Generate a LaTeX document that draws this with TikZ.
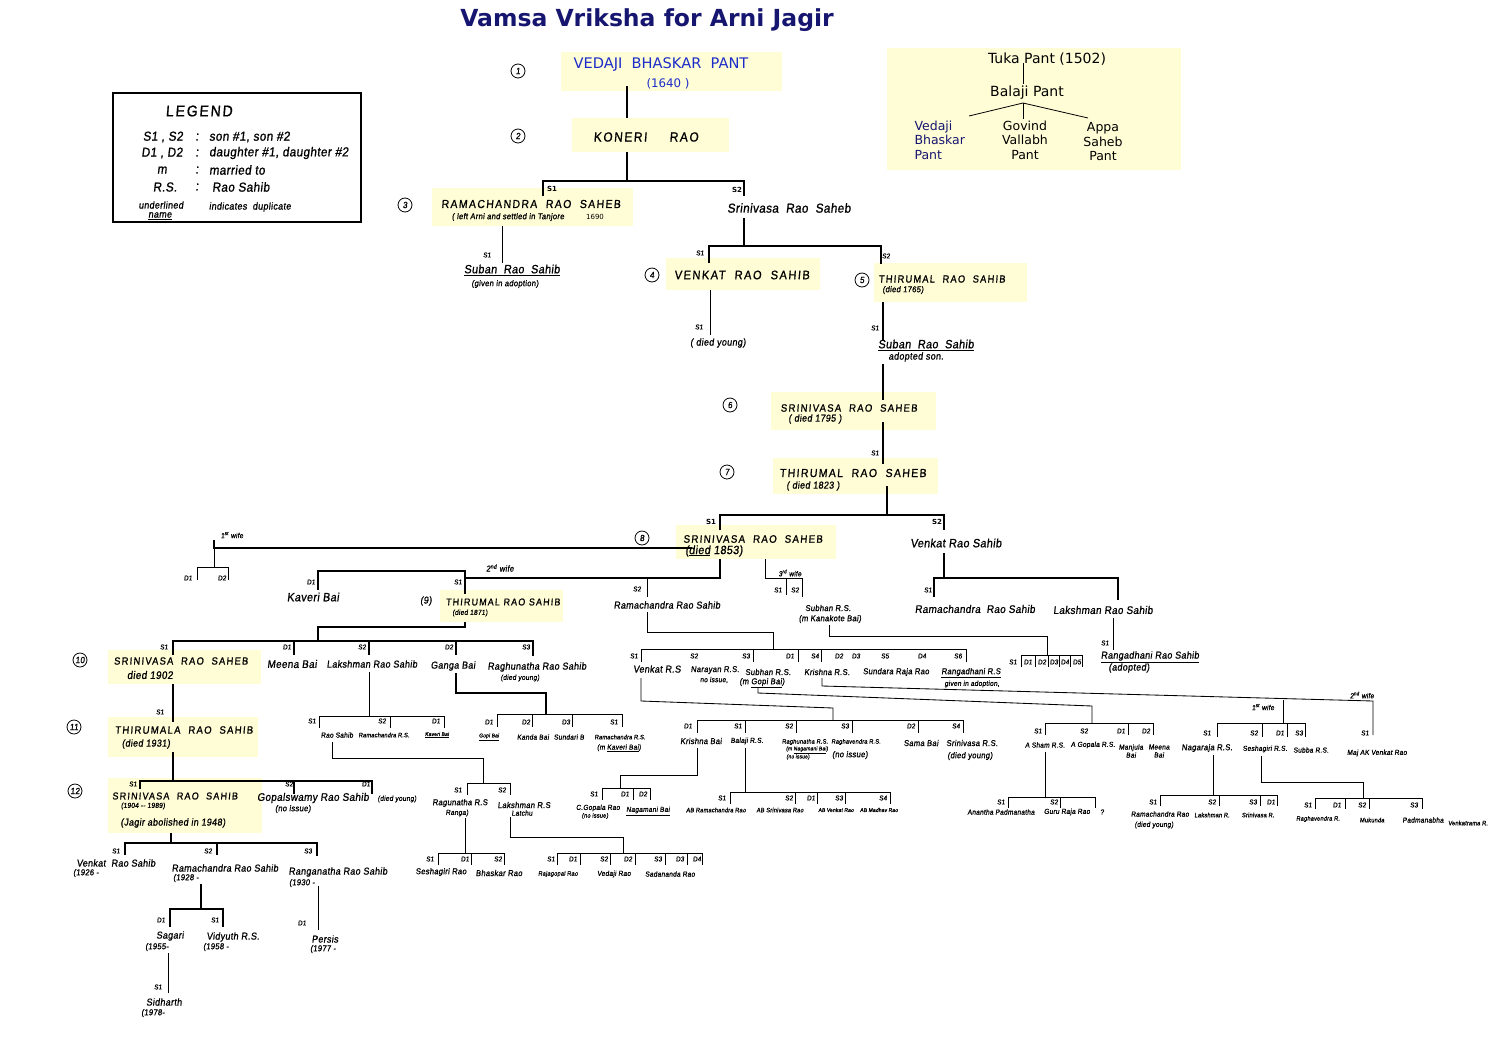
\documentclass[tikz,border=0pt]{standalone}
\usepackage{fontspec}
\setmainfont{DejaVu Sans}
\newfontfamily\hand{Liberation Sans}[FakeStretch=0.9,FakeSlant=0.12,FakeBold=1,LetterSpace=3]
\newfontfamily\handcaps{Liberation Sans}[FakeStretch=0.9,FakeSlant=0.08,FakeBold=1,LetterSpace=12]
\definecolor{hlyellow}{RGB}{255,253,214}
\definecolor{navy}{RGB}{22,22,112}
\definecolor{vblue}{RGB}{28,44,200}

% a row of S1/D1 marks above one bracket
\newcommand\tagrow[3]{%
  \foreach \px/\lb [count=\i] in {#3}
    \node[tag] (#1\i) at (\px,#2) {\lb};}

\tikzset{
  main/.style={line width=2.6pt},
  mid/.style={line width=1.5pt},
  fine/.style={line width=0.85pt},
  hl/.style={fill=hlyellow},
  boxcap/.style={font=\handcaps\fontsize{#1}{#1}\selectfont, inner sep=0pt},
  boxcap/.default=10.5,
  nmL/.style={font=\hand\fontsize{12}{13}\selectfont, inner sep=0pt},
  nmM/.style={font=\hand\fontsize{11}{12}\selectfont, inner sep=0pt},
  nm/.style={font=\hand\fontsize{10}{11}\selectfont, inner sep=0pt},
  sm/.style={font=\hand\fontsize{8.5}{9}\selectfont, inner sep=0pt},
  xs/.style={font=\hand\fontsize{7.3}{8}\selectfont, inner sep=0pt},
  xxs/.style={font=\hand\fontsize{6.3}{7}\selectfont, inner sep=0pt},
  tiny/.style={font=\hand\fontsize{5.5}{6}\selectfont, inner sep=0pt},
  tag/.style={font=\hand\fontsize{7}{7.5}\selectfont, inner sep=0pt},
  typed/.style={font=\bfseries\fontsize{7}{8}\selectfont, inner sep=0pt},
  gen/.style={circle, draw, line width=0.8pt, minimum size=14pt, inner sep=0pt,
    font=\hand\fontsize{9}{9}\selectfont},
}

\begin{document}
\begin{tikzpicture}[x=1pt,y=-1pt]
  \useasboundingbox (0,0) rectangle (1494,1047);

  % highlighted boxes
  \fill[hl] (561,52) rectangle (782,91);
  \fill[hl] (572,118) rectangle (729,152);
  \fill[hl] (432,188) rectangle (633,226);
  \fill[hl] (666,258) rectangle (820,290);
  \fill[hl] (874,263) rectangle (1027,302);
  \fill[hl] (771,392) rectangle (936,430);
  \fill[hl] (773,458) rectangle (938,494);
  \fill[hl] (676,525) rectangle (836,559);
  \fill[hl] (440,590) rectangle (563,622);
  \fill[hl] (108,650) rectangle (261,684);
  \fill[hl] (108,717) rectangle (258,757);
  \fill[hl] (108,778) rectangle (262,833);
  \fill[hl] (887,48) rectangle (1181,170);

  % title
  \node[font=\bfseries\fontsize{23.5}{26}\selectfont, text=navy] (title) at (647,20)
    {Vamsa Vriksha for Arni Jagir};

  % legend
  \draw[line width=1.3pt] (113,93) rectangle (361,222);
  \node[font=\handcaps\fontsize{15.5}{16}\selectfont] (lgd) at (199,111) {LEGEND};
  \begin{scope}[every node/.style={font=\hand\fontsize{13}{14}\selectfont, inner sep=0pt}]
    \node (lk1) at (163,137) {S1 , S2};
    \node (lk2) at (162,153) {D1 , D2};
    \node (lk3) at (162,170) {m};
    \node (lk4) at (165,187) {R.S.};
    \foreach \py [count=\i] in {137,153,170,187}
      \node (lc\i) at (197,\py) {:};
    \node[anchor=west] (lv1) at (209,137) {son \#1, son \#2};
    \node[anchor=west] (lv2) at (209,153) {daughter \#1, daughter \#2};
    \node[anchor=west] (lv3) at (209,170) {married to};
    \node[anchor=west] (lv4) at (212,187) {Rao Sahib};
  \end{scope}
  \node[nm] (lu1) at (161,205) {underlined};
  \node[nm] (lu2) at (160,216) {\underline{name}};
  \node[nm] (lu3) at (250,207) {indicates\ \ duplicate};

  % older line, top right
  \node[font=\fontsize{14}{16}\selectfont] (tuka) at (1047,59) {Tuka Pant (1502)};
  \node[font=\fontsize{14}{16}\selectfont] (balaji) at (1027,93) {Balaji Pant};
  \draw[line width=0.8pt] (1023,63) -- (1023,84);
  \draw[line width=0.8pt] (969,116) -- (1023,103) -- (1088,118);
  \draw[line width=0.8pt] (1023,103) -- (1023,119);
  \node[align=left, anchor=west, text=navy, font=\fontsize{12.5}{14.5}\selectfont] (tvedaji)
    at (911,140) {Vedaji\\Bhaskar\\Pant};
  \node[align=center, font=\fontsize{12.5}{14.5}\selectfont] (govind) at (1025,140)
    {Govind\\Vallabh\\Pant};
  \node[align=center, font=\fontsize{12.5}{14.5}\selectfont] (appa) at (1103,142)
    {Appa\\Saheb\\Pant};

  % generation marks
  \node[gen] (g1) at (518,71) {1};
  \node[gen] (g2) at (518,136) {2};
  \node[gen] (g3) at (405,205) {3};
  \node[gen] (g4) at (652,275) {4};
  \node[gen] (g5) at (862,280) {5};
  \node[gen] (g6) at (730,405) {6};
  \node[gen] (g7) at (727,472) {7};
  \node[gen] (g8) at (642,538) {8};
  \node[nm] (g9) at (426,601) {(9)};
  \node[gen] (g10) at (80,660) {10};
  \node[gen] (g11) at (74,727) {11};
  \node[gen] (g12) at (75,791) {12};

  % generations 1 to 3
  \node[text=vblue, font=\fontsize{14.6}{16}\selectfont] (vedaji) at (661,65)
    {VEDAJI\ \ BHASKAR\ \ PANT};
  \node[text=vblue, font=\fontsize{11.8}{13}\selectfont] (vedajiyr) at (668,84) {(1640 )};
  \draw[main] (627,86) -- (627,118);
  \node[boxcap=13.2] (koneri) at (646,137) {KONERI\hspace{1.7em}RAO};
  \draw[main] (627,152) -- (627,181);
  \draw[main] (543,196) -- (543,181) -- (744,181) -- (744,196);
  \node[typed] (k1) at (552,189) {S1};
  \node[typed] (k2) at (737,190) {S2};
  \node[boxcap=11.6] (rama3) at (531,204) {RAMACHANDRA\ \ RAO\ \ SAHEB};
  \node[sm] (rama3n) at (508,217) {( left Arni and settled in Tanjore};
  \node[font=\fontsize{7}{8}\selectfont] (rama3y) at (595,217) {1690};
  \node[nmL, font=\hand\fontsize{13}{14}\selectfont] (srini3) at (789,208)
    {Srinivasa\ \ Rao\ \ Saheb};

  \draw[fine] (502,226) -- (502,263);
  \node[tag] (r1) at (487,255) {S1};
  \node[nmL] (suban1) at (512,270) {\underline{Suban\ \ Rao\ \ Sahib}};
  \node[sm] (suban1n) at (505,284) {(given in adoption)};

  % generations 4 and 5
  \draw[main] (744,218) -- (744,246);
  \draw[main] (709,263) -- (709,246) -- (881,246) -- (881,264);
  \node[tag] (s1) at (700,253) {S1};
  \node[tag] (s2) at (886,256) {S2};
  \node[boxcap=12.3] (venkat4) at (742,275) {VENKAT\ \ RAO\ \ SAHIB};
  \node[boxcap=10.3] (thiru5) at (942,279) {THIRUMAL\ \ RAO\ \ SAHIB};
  \node[sm] (thiru5n) at (903,290) {(died 1765)};
  \draw[fine] (710,290) -- (710,335);
  \node[tag] (v1) at (699,327) {S1};
  \node[nm] (vyoung) at (718,343) {( died young)};
  \draw[main] (883,302) -- (883,340);
  \node[tag] (t1) at (875,328) {S1};
  \node[nmL] (suban2) at (926,345) {\underline{Suban\ \ Rao\ \ Sahib}};
  \node[nm] (suban2n) at (916,357) {adopted son.};

  % generations 6 and 7
  \draw[main] (883,364) -- (883,400);
  \node[boxcap=10.6] (srini6) at (849,408) {SRINIVASA\ \ RAO\ \ SAHEB};
  \node[nm] (srini6n) at (815,419) {( died 1795 )};
  \draw[main] (883,422) -- (883,464);
  \node[tag] (u1) at (875,453) {S1};
  \node[boxcap=11.6] (thiru7) at (853,473) {THIRUMAL\ \ RAO\ \ SAHEB};
  \node[nm] (thiru7n) at (813,486) {( died 1823 )};
  \draw[main] (887,486) -- (887,515);
  \draw[main] (720,530) -- (720,515) -- (944,515) -- (944,530);
  \node[typed] (w1) at (711,522) {S1};
  \node[typed] (w2) at (937,522) {S2};

  % generation 8
  \node[boxcap=10.8] (srini8) at (753,539) {SRINIVASA\ \ RAO\ \ SAHEB};
  \node[nmL] (srini8n) at (714,551) {(\underline{died} 1853)};
  \node[nmL] (venkat8) at (956,543) {Venkat Rao Sahib};

  % first wife
  \draw[main] (214,540) -- (214,548) -- (692,548);
  \draw[fine] (214,548) -- (214,567);
  \draw[fine] (197,580) -- (197,567) -- (228,567) -- (228,580);
  \node[xs] (wife1) at (232,535) {1\textsuperscript{st} wife};
  \tagrow{fw}{578}{188/D1,222/D2}

  % second wife
  \draw[main] (720,559) -- (720,578) -- (465,578);
  \draw[main] (318,590) -- (318,571) -- (465,571) -- (465,594);
  \node[sm] (wife2) at (500,568) {2\textsuperscript{nd} wife};
  \tagrow{sw}{582}{311/D1,458/S1}
  \node[nmL] (kaveri) at (313,597) {Kaveri Bai};
  \draw[fine] (647,578) -- (647,597);
  \node[tag] (sw3) at (637,589) {S2};
  \node[nm] (rama9) at (667,605) {Ramachandra Rao Sahib};
  \node[boxcap=9.9] (thiru9) at (503,602) {THIRUMAL RAO SAHIB};
  \node[xs] (thiru9n) at (470,613) {(died 1871)};

  % third wife
  \draw[fine] (765,559) -- (765,578) -- (802,578) -- (802,597);
  \draw[fine] (786,578) -- (786,595);
  \node[xs] (wife3) at (790,573) {3\textsuperscript{rd} wife};
  \tagrow{tw}{590}{778/S1,795/S2}
  \node[sm] (subhan9) at (828,608) {Subhan R.S.};
  \node[sm] (subhan9n) at (830,619) {(m Kanakote Bai)};

  % Venkat Rao Sahib's line
  \draw[main] (944,553) -- (944,578);
  \draw[main] (934,597) -- (934,578) -- (1118,578) -- (1118,600);
  \node[tag] (vr1) at (928,590) {S1};
  \node[nmM] (ramav) at (975,609) {Ramachandra\ \ Rao Sahib};
  \node[nmM] (lakv) at (1103,610) {Lakshman Rao Sahib};
  \draw[fine] (1113,618) -- (1113,650);
  \node[tag] (lv1) at (1105,643) {S1};
  \node[nm] (ranga1) at (1150,657) {\underline{Rangadhani Rao Sahib}};
  \node[nm] (ranga1n) at (1129,668) {(adopted)};

  % Subhan R.S. (third wife) children
  \draw[fine] (829,625) -- (829,636) -- (1047,636) -- (1047,655);
  \draw[fine] (1021,667) -- (1021,655) -- (1082,655) -- (1082,667);
  \foreach \px in {1035,1048,1059,1070}
    \draw[fine] (\px,655) -- (\px,667);
  \tagrow{sb}{662}{1013/S1,1028/D1,1042/D2,1054/D3,1065/D4,1077/D5}

  % Ramachandra Rao Sahib (S2) children
  \draw[fine] (647,612) -- (647,632) -- (773,632) -- (773,649);
  \draw[fine] (641,662) -- (641,649) -- (966,649) -- (966,662);
  \foreach \px in {753,798,821}
    \draw[fine] (\px,649) -- (\px,662);
  \tagrow{ra}{656}{634/S1,694/S2,746/S3,790/D1,815/S4,839/D2,856/D3,885/S5,922/D4,958/S6}
  \node[nm] (ven10) at (657,669) {Venkat R.S};
  \node[sm] (nar10) at (715,670) {Narayan R.S.};
  \node[xs] (nar10n) at (714,680) {no issue,};
  \node[sm] (sub10) at (768,672) {Subhan R.S.};
  \node[sm] (sub10n) at (762,683) {(m \underline{Gopi Bai})};
  \node[sm] (kri10) at (827,672) {Krishna R.S.};
  \node[sm] (sun10) at (896,672) {Sundara Raja Rao};
  \node[sm] (ran10) at (971,673) {\underline{Rangadhani R.S}};
  \node[xs] (ran10n) at (972,684) {given in adoption,};

  % Venkat R.S. children
  \draw[fine] (641,678) -- (641,701) -- (833,708) -- (833,720);
  \draw[fine] (697,733) -- (697,720) -- (963,720) -- (963,733);
  \foreach \px in {745,796,852,918}
    \draw[fine] (\px,720) -- (\px,733);
  \tagrow{vk}{726}{688/D1,738/S1,789/S2,845/S3,911/D2,956/S4}
  \node[sm] (kbai) at (701,741) {Krishna Bai};
  \node[xs] (bala) at (747,741) {Balaji R.S.};
  \node[xxs] (ragh) at (805,742) {Raghunatha R.S.};
  \node[tiny] (raghm) at (807,750) {(m \underline{Nagamani Bai})};
  \node[tiny] (raghn) at (798,757) {(no issue)};
  \node[xxs] (rgv) at (856,742) {Raghavendra R.S.};
  \node[sm] (rgvn) at (850,755) {(no issue)};
  \node[sm] (sama) at (921,743) {Sama Bai};
  \node[sm] (srs) at (972,743) {Srinivasa R.S.};
  \node[sm] (srsn) at (970,756) {(died young)};

  % Krishna Bai children
  \draw[fine] (697,748) -- (697,775) -- (620,775) -- (620,788);
  \draw[fine] (602,800) -- (602,788) -- (650,788) -- (650,800);
  \draw[fine] (633,788) -- (633,800);
  \tagrow{kb}{794}{594/S1,625/D1,643/D2}
  \node[xs] (cgop) at (598,808) {C.Gopala Rao};
  \node[xxs] (cgopn) at (595,816) {(no issue)};
  \node[xs] (naga) at (648,811) {\underline{Nagamani Bai}};

  % Balaji R.S. children
  \draw[fine] (745,748) -- (745,792);
  \draw[fine] (730,804) -- (730,792) -- (890,792) -- (890,804);
  \foreach \px in {795,817,845}
    \draw[fine] (\px,792) -- (\px,804);
  \tagrow{bl}{798}{722/S1,789/S2,811/D1,839/S3,883/S4}
  \node[xxs] (abr) at (716,810) {AB Ramachandra Rao};
  \node[xxs] (abs) at (780,810) {AB Srinivasa Rao};
  \node[tiny] (abv) at (836,810) {AB Venkat Rao};
  \node[tiny] (abm) at (879,810) {AB Madhav Rao};

  % Subhan R.S. children
  \draw[fine] (758,688) -- (758,693) -- (1092,706) -- (1092,723);
  \draw[fine] (1045,735) -- (1045,723) -- (1153,723) -- (1153,735);
  \draw[fine] (1128,723) -- (1128,735);
  \tagrow{sh}{731}{1038/S1,1084/S2,1121/D1,1146/D2}
  \node[xs] (asham) at (1045,745) {A Sham R.S.};
  \node[xs] (agop) at (1093,745) {A Gopala R.S.};
  \node[xs, align=center] (manj) at (1131,751) {Manjula\\Bai};
  \node[xs, align=center] (meena2) at (1159,751) {Meena\\Bai};

  % A Sham R.S. children
  \draw[fine] (1045,752) -- (1045,797);
  \draw[fine] (1008,808) -- (1008,797) -- (1095,797) -- (1095,808);
  \draw[fine] (1060,797) -- (1060,808);
  \tagrow{as}{802}{1001/S1,1054/S2}
  \node[xs] (anan) at (1001,812) {Anantha Padmanatha};
  \node[xs] (guru) at (1067,812) {Guru Raja Rao};
  \node[xs] (qm) at (1102,812) {?};

  % Krishna R.S. children
  \draw[fine] (822,678) -- (822,686) -- (1373,701) -- (1373,735);
  \draw[fine] (1283,700) -- (1283,723);
  \node[xs] (kw1) at (1263,707) {1\textsuperscript{st} wife};
  \node[xs] (kw2) at (1362,695) {2\textsuperscript{nd} wife};
  \draw[fine] (1217,737) -- (1217,723) -- (1305,723) -- (1305,737);
  \foreach \px in {1262,1287}
    \draw[fine] (\px,723) -- (\px,737);
  \tagrow{kr}{733}{1207/S1,1254/S2,1280/D1,1299/S3,1365/S1}
  \node[sm] (nagr) at (1207,748) {Nagaraja R.S.};
  \node[xs] (sesr) at (1265,749) {Seshagiri R.S.};
  \node[xs] (subr) at (1311,750) {Subba R.S.};
  \node[xs] (majak) at (1377,753) {Maj AK Venkat Rao};

  % Nagaraja R.S. children
  \draw[fine] (1213,755) -- (1213,795);
  \draw[fine] (1160,806) -- (1160,795) -- (1277,795) -- (1277,806);
  \foreach \px in {1219,1260}
    \draw[fine] (\px,795) -- (\px,806);
  \tagrow{ng}{802}{1153/S1,1212/S2,1253/S3,1271/D1}
  \node[xs] (ngr1) at (1160,814) {Ramachandra Rao};
  \node[xs] (ngr1n) at (1154,825) {(died young)};
  \node[xxs] (ngr2) at (1212,815) {Lakshman R.};
  \node[xxs] (ngr3) at (1258,815) {Srinivasa R.};

  % Seshagiri R.S. children
  \draw[fine] (1261,756) -- (1261,782) -- (1363,782) -- (1363,798);
  \draw[fine] (1315,809) -- (1315,798) -- (1422,798) -- (1422,809);
  \foreach \px in {1345,1369}
    \draw[fine] (\px,798) -- (\px,809);
  \tagrow{ss}{805}{1308/S1,1337/D1,1362/S2,1414/S3}
  \node[xxs] (ssr1) at (1318,819) {Raghavendra R.};
  \node[xxs] (ssr2) at (1372,820) {Mukunda};
  \node[xs] (ssr3) at (1423,820) {Padmanabha};
  \node[xxs] (ssr4) at (1468,823) {Venkatrama R.};

  % Thirumal Rao Sahib (1871) children
  \draw[main] (465,622) -- (465,627) -- (318,627) -- (318,641);
  \draw[main] (173,655) -- (173,641) -- (533,641) -- (533,656);
  \foreach \px in {294,369,456}
    \draw[mid] (\px,641) -- (\px,655);
  \tagrow{th}{647}{164/S1,287/D1,362/S2,449/D2,526/S3}
  \node[boxcap=10.4] (srini10) at (181,661) {SRINIVASA\ \ RAO\ \ SAHEB};
  \node[nmM] (srini10n) at (150,675) {died 1902};
  \node[nmM] (meena) at (292,664) {Meena Bai};
  \node[nm] (laks) at (372,664) {Lakshman Rao Sahib};
  \node[nm] (ganga) at (453,666) {Ganga Bai};
  \node[nm] (raghu) at (537,667) {Raghunatha Rao Sahib};
  \node[xs] (raghun) at (520,678) {(died young)};

  % Lakshman Rao Sahib children
  \draw[fine] (369,672) -- (369,716);
  \draw[fine] (319,728) -- (319,716) -- (444,716) -- (444,728);
  \draw[fine] (390,716) -- (390,728);
  \tagrow{lk}{721}{312/S1,382/S2,436/D1}
  \node[xs] (lkr1) at (337,735) {Rao Sahib};
  \node[xxs] (lkr2) at (384,735) {Ramachandra R.S.};
  \node[tiny] (lkr3) at (437,735) {\underline{Kaveri Bai}};

  % Ganga Bai children
  \draw[main] (456,673) -- (456,693) -- (546,693) -- (546,714);
  \draw[fine] (497,727) -- (497,714) -- (622,714) -- (622,727);
  \foreach \px in {532,572}
    \draw[fine] (\px,714) -- (\px,727);
  \tagrow{gb}{722}{489/D1,526/D2,566/D3,614/S1}
  \node[tiny] (gbr1) at (489,737) {\underline{Gopi Bai}};
  \node[xs] (gbr2) at (533,737) {Kanda Bai};
  \node[xs] (gbr3) at (569,737) {Sundari B};
  \node[xxs] (gbr4) at (620,737) {Ramachandra R.S.};
  \node[xs] (gbr4n) at (619,748) {(m \underline{Kaveri Bai})};

  % Rao Sahib's children
  \draw[fine] (332,742) -- (332,758) -- (483,758) -- (483,783);
  \draw[fine] (467,795) -- (467,783) -- (510,783) -- (510,795);
  \tagrow{rs}{790}{458/S1,502/S2}
  \node[sm] (rsr1) at (460,803) {Ragunatha R.S};
  \node[xs] (rsr1n) at (457,813) {Ranga)};
  \node[sm] (rsr2) at (524,805) {Lakshman R.S};
  \node[xs] (rsr2n) at (522,813) {Latchu};

  % Ragunatha R.S. children
  \draw[fine] (465,818) -- (465,853);
  \draw[fine] (438,865) -- (438,853) -- (504,853) -- (504,865);
  \draw[fine] (471,853) -- (471,865);
  \tagrow{rg}{859}{430/S1,465/D1,498/S2}
  \node[sm] (rgr1) at (441,872) {Seshagiri Rao};
  \node[sm] (rgr2) at (499,873) {Bhaskar Rao};

  % Lakshman R.S. children
  \draw[fine] (510,817) -- (510,837) -- (623,837) -- (623,853);
  \draw[fine] (557,865) -- (557,853) -- (702,853) -- (702,865);
  \foreach \px in {580,610,635,665,687}
    \draw[fine] (\px,853) -- (\px,865);
  \tagrow{lr}{859}{551/S1,573/D1,604/S2,628/D2,658/S3,680/D3,697/D4}
  \node[xxs] (lrr1) at (558,874) {Rajagopal Rao};
  \node[xs] (lrr2) at (614,874) {Vedaji Rao};
  \node[xs] (lrr3) at (670,874) {Sadananda Rao};

  % generations 10 to 12
  \draw[main] (173,684) -- (173,722);
  \node[tag] (x1) at (160,712) {S1};
  \node[boxcap=10.6] (thiru11) at (184,730) {THIRUMALA\ \ RAO\ \ SAHIB};
  \node[nm] (thiru11n) at (146,744) {(died 1931)};
  \draw[main] (173,752) -- (173,781);
  \draw[main] (140,789) -- (140,781) -- (372,781) -- (372,794);
  \draw[mid] (294,781) -- (294,794);
  \tagrow{tr}{784}{133/S1,289/S2,366/D1}
  \node[boxcap=10] (srini12) at (175,796) {SRINIVASA\ \ RAO\ \ SAHIB};
  \node[xs] (srini12y) at (143,806) {(1904 -- 1989)};
  \node[nm] (srini12n) at (173,823) {(Jagir abolished in 1948)};
  \node[nmM] (gopal) at (313,798) {Gopalswamy Rao Sahib};
  \node[sm] (gopaln) at (293,809) {(no issue)};
  \node[xs] (dyoung) at (397,799) {(died young)};

  % Srinivasa Rao Sahib (1904) children
  \draw[main] (171,833) -- (171,843);
  \draw[main] (125,855) -- (125,843) -- (317,843) -- (317,856);
  \draw[main] (217,843) -- (217,855);
  \tagrow{sr}{851}{116/S1,208/S2,308/S3}
  \node[nm] (ven12) at (116,863) {Venkat\ \ Rao Sahib};
  \node[sm] (ven12y) at (86,873) {(1926 -};
  \node[nm] (ram12) at (225,868) {Ramachandra Rao Sahib};
  \node[sm] (ram12y) at (186,878) {(1928 -};
  \node[nm] (ran12) at (338,872) {Ranganatha Rao Sahib};
  \node[sm] (ran12y) at (302,883) {(1930 -};

  \draw[main] (201,884) -- (201,909);
  \draw[main] (170,927) -- (170,909) -- (223,909) -- (223,927);
  \tagrow{rc}{920}{161/D1,215/S1}
  \node[nm] (sagari) at (170,936) {Sagari};
  \node[sm] (sagariy) at (157,947) {(1955-};
  \node[nm] (vidyuth) at (233,937) {Vidyuth R.S.};
  \node[sm] (vidyuthy) at (216,947) {(1958 -};
  \draw[fine] (168,953) -- (168,993);
  \node[tag] (sg1) at (158,987) {S1};
  \node[nm] (sidh) at (164,1002) {Sidharth};
  \node[sm] (sidhy) at (153,1013) {(1978-};
  \draw[fine] (318,886) -- (318,930);
  \node[tag] (rn1) at (302,923) {D1};
  \node[nm] (persis) at (325,939) {Persis};
  \node[sm] (persisy) at (323,949) {(1977 -};
\end{tikzpicture}
\end{document}
